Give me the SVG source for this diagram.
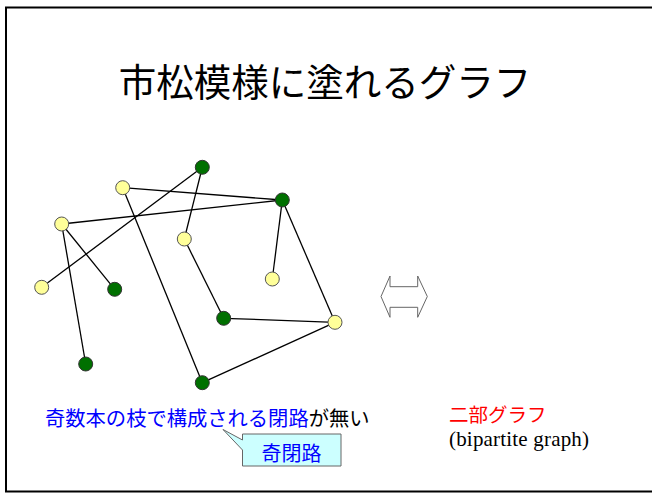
<svg xmlns="http://www.w3.org/2000/svg" width="652" height="495" viewBox="0 0 652 495">
<style>
.edge{stroke:#000;stroke-width:1.3;fill:none}
.y{fill:#FFFF99;stroke:#555;stroke-width:1}
.g{fill:#007000;stroke:#333;stroke-width:1}
.jp{font-family:"Liberation Sans","Noto Sans CJK JP",sans-serif}
</style>
<rect x="0" y="0" width="652" height="495" fill="#fff"/>
<rect x="6" y="7.5" width="660" height="484" fill="none" stroke="#000" stroke-width="2"/>
<text class="jp" x="325" y="96" font-size="37.5" text-anchor="middle" fill="#000">市松模様に塗れるグラフ</text>
<g id="connectors">
<line class="edge" x1="202.3" y1="167.3" x2="41.7" y2="287.3"/>
<line class="edge" x1="202.3" y1="167.3" x2="184.3" y2="239"/>
<line class="edge" x1="122.7" y1="187.7" x2="282.3" y2="200"/>
<line class="edge" x1="122.7" y1="187.7" x2="202.3" y2="382.7"/>
<line class="edge" x1="61.7" y1="224" x2="282.3" y2="200"/>
<line class="edge" x1="61.7" y1="224" x2="114.7" y2="289.3"/>
<line class="edge" x1="61.7" y1="224" x2="85.7" y2="364"/>
<line class="edge" x1="282.3" y1="200" x2="272.3" y2="279"/>
<line class="edge" x1="282.3" y1="200" x2="335" y2="322.3"/>
<line class="edge" x1="184.3" y1="239" x2="223.7" y2="318.3"/>
<line class="edge" x1="223.7" y1="318.3" x2="335" y2="322.3"/>
<line class="edge" x1="335" y1="322.3" x2="202.3" y2="382.7"/>
</g>
<g id="n1"><circle class="g" cx="202.3" cy="167.3" r="7"/></g>
<g id="n2"><circle class="y" cx="122.7" cy="187.7" r="7"/></g>
<g id="n3"><circle class="g" cx="282.3" cy="200" r="7"/></g>
<g id="n4"><circle class="y" cx="61.7" cy="224" r="7"/></g>
<g id="n5"><circle class="y" cx="184.3" cy="239" r="7"/></g>
<g id="n6"><circle class="y" cx="272.3" cy="279" r="7"/></g>
<g id="n7"><circle class="y" cx="41.7" cy="287.3" r="7"/></g>
<g id="n8"><circle class="g" cx="114.7" cy="289.3" r="7"/></g>
<g id="n9"><circle class="g" cx="223.7" cy="318.3" r="7"/></g>
<g id="n10"><circle class="y" cx="335" cy="322.3" r="7"/></g>
<g id="n11"><circle class="g" cx="85.7" cy="364" r="7"/></g>
<g id="n12"><circle class="g" cx="202.3" cy="382.7" r="7"/></g>
<g id="double-arrow">
<path d="M381,296.5 L390,276 L390,286.7 L417.7,286.7 L417.7,276 L427.3,296.5 L417.7,317.3 L417.7,307.3 L390,307.3 L390,317.3 Z" fill="#fff" stroke="#666" stroke-width="1"/>
</g>
<text class="jp" x="45" y="426" font-size="20.3"><tspan fill="#0000FF">奇数本の枝で構成される閉路</tspan><tspan fill="#000">が無い</tspan></text>
<g id="callout">
<path d="M242.5,434 L341,434 L341,466 L242.5,466 L242.5,450 L223,429.5 L242.5,440 Z" fill="#CCFFFF" stroke="#666" stroke-width="1"/>
<text class="jp" x="291.5" y="461" font-size="20" text-anchor="middle" fill="#0000FF">奇閉路</text>
</g>
<text class="jp" x="449" y="422" font-size="19.5" fill="#FF0000">二部グラフ</text>
<text x="449" y="446" font-family="'Liberation Serif',serif" font-size="21" textLength="140" lengthAdjust="spacing" fill="#000">(bipartite graph)</text>
</svg>
